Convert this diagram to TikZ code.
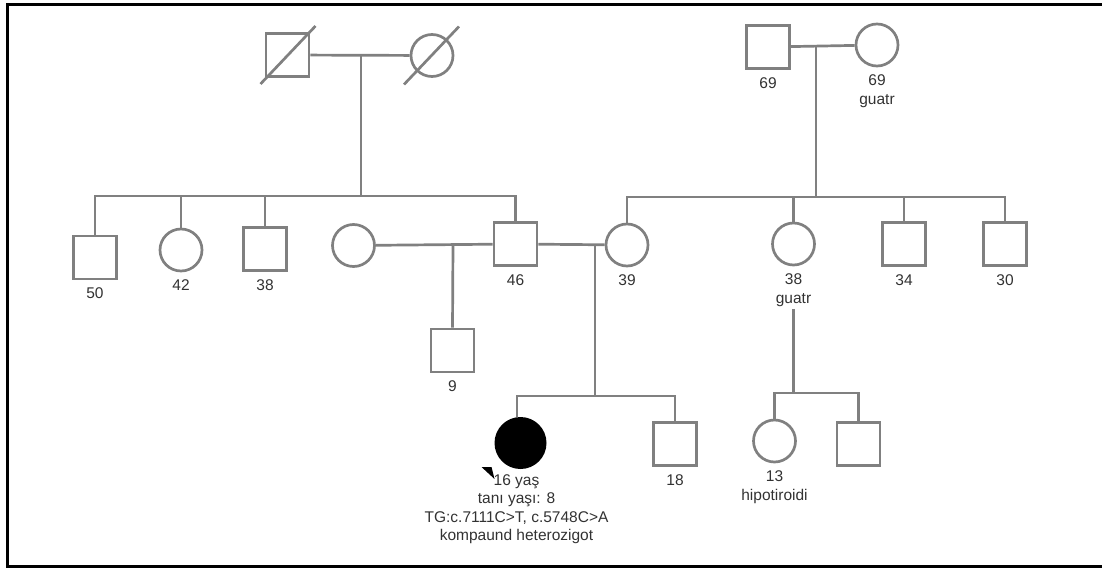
\documentclass[tikz,border=0pt]{standalone}
\usepackage{fontspec}
\setmainfont{Liberation Sans}
\usetikzlibrary{positioning, calc}
\definecolor{lineGray}{RGB}{128,128,128}
\definecolor{textGray}{RGB}{50,50,50}

\begin{document}
\begin{tikzpicture}[
      x=1pt, y=-1pt,
      font=\fontsize{15.5}{18.5}\selectfont,
      male/.style={rectangle, draw=lineGray, line width=2.7pt, minimum size=43pt, inner sep=0pt},
      female/.style={circle, draw=lineGray, line width=2.7pt, minimum size=42pt, inner sep=0pt},
      link/.style={draw=lineGray, line width=2.7pt},
      age/.style={text=textGray, align=center, inner sep=0pt}
  ]
  \useasboundingbox (0,0) rectangle (1102,572);

  % frame
  \draw[line width=2.2pt] (1102,4.5) -- (7.5,4.5) -- (7.5,566.5) -- (1102,566.5);

  % Grandparents (father side, deceased)
  \node[male] (gfa) at (287.5,55) {};
  \node[female] (gma) at (432,55.5) {};
  \draw[link] (gfa.center) ++(-27,29) -- ++(55,-58);
  \draw[link] (gma.center) ++(-28,29) -- ++(55,-58);

  % Grandparents (mother side)
  \node[male] (gfb) at (768,47) {};
  \node[female] (gmb) at (877,45) {};
  \node[age, below=7.5pt of gfb] (lgfb) {69};
  \node[age, below=7.5pt of gmb] (lgmb) {69\\guatr};

  % Generation II, father side
  \node[male] (m50) at (95,257.5) {};
  \node[female] (f42) at (181,250) {};
  \node[male] (m38) at (265,249) {};
  \node[female] (fsp) at (353.5,245.5) {};
  \node[male] (m46) at (515.5,244) {};
  \node[age, below=7.5pt of m50] (l50) {50};
  \node[age, below=7.5pt of f42] (l42) {42};
  \node[age, below=7.5pt of m38] (l38) {38};
  \node[age, below=7.5pt of m46] (l46) {46};

  % Generation II, mother side
  \node[female] (f39) at (627,245) {};
  \node[female] (f38) at (793.5,244) {};
  \node[male] (m34) at (904,244) {};
  \node[male] (m30) at (1005,244) {};
  \node[age, below=7.5pt of f39] (l39) {39};
  \node[age, below=7.5pt of f38] (lf38) {38\\guatr};
  \node[age, below=7.5pt of m34] (l34) {34};
  \node[age, below=7.5pt of m30] (l30) {30};

  % Generation III
  \node[male] (m9) at (452.5,350.5) {};
  \node[age, below=7.5pt of m9] (l9) {9};
  \node[circle, fill=black, minimum size=52pt, inner sep=0pt] (prob) at (520.5,443) {};
  \node[male] (m18) at (675,444) {};
  \node[female] (f13) at (774.5,441) {};
  \node[male] (mx) at (858.5,444) {};
  \node[age, below=7.5pt of m18] (l18) {18};
  \node[age, below=7.5pt of f13] (l13) {13\\hipotiroidi};
  \node[age, below=5pt of prob, xshift=-4pt] (lprob) {16 yaş\\tanı yaşı: 8\\TG:c.7111C>T, c.5748C>A\\kompaund heterozigot};
  \fill (prob.center) ++(-39,24) -- ++(10,0) -- ++(3,12) -- cycle;

  % junctions
  \coordinate (ja) at (361,56);
  \coordinate (sa) at (361,196);
  \coordinate (jb) at (816,46);
  \coordinate (sb) at (816,197);
  \coordinate (jc) at (453,245);
  \coordinate (jd) at (595,245);
  \coordinate (sd) at (595,396);
  \coordinate (se) at (793.5,393);

  % marriages
  \draw[link] (gfa) -- (gma);
  \draw[link] (gfb) -- (gmb);
  \draw[link] (fsp) -- (m46);
  \draw[link] (m46) -- (f39);

  % sibships
  \draw[link] (ja) -- (sa);
  \draw[link] (m50.north) |- (sa) -| (m46.north);
  \draw[link] (f42.north) -- (f42 |- sa);
  \draw[link] (m38.north) -- (m38 |- sa);
  \draw[link] (jb) -- (sb);
  \draw[link] (f39.north) |- (sb) -| (m30.north);
  \draw[link] (f38.north) -- (f38 |- sb);
  \draw[link] (m34.north) -- (m34 |- sb);
  \draw[link] (jc) -- (m9.north);
  \draw[link] (jd) -- (sd);
  \draw[link] (prob.north -| 517,0) |- (sd) -| (m18.north);
  \draw[link] ([yshift=-2pt]lf38.south) -- (se);
  \draw[link] (f13.north) |- (se) -| (mx.north);

\end{tikzpicture}
\end{document}
